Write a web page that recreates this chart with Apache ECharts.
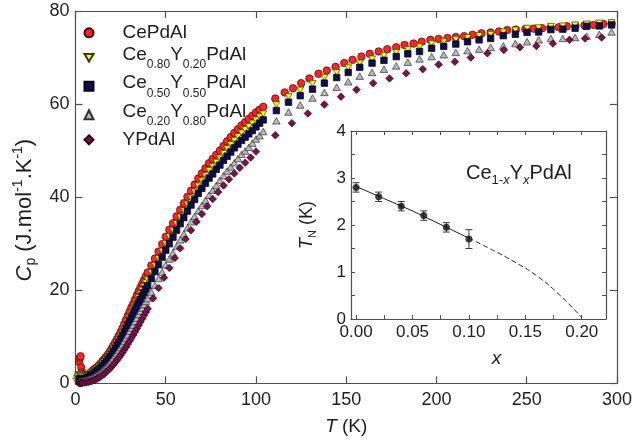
<!DOCTYPE html>
<html>
<head>
<meta charset="utf-8">
<script src="https://cdn.jsdelivr.net/npm/echarts@6/dist/echarts.min.js"></script>
<style>
  html, body { margin: 0; padding: 0; background: #ffffff; }
  #chart { width: 635px; height: 445px; }
</style>
</head>
<body>
<div id="chart"></div>
<script>
// ---- Specific heat C_p(T) of Ce(1-x)Y(x)PdAl ----

// dense low-temperature sweep (K), shared by the Ce-containing samples
const tLow = [2, 2.4, 2.8, 3.2, 3.6, 4, 5, 6, 7, 8, 9, 10, 11, 12, 13, 14, 15, 16, 17, 18, 19, 20,
  21, 22, 23, 24, 25, 26, 27, 28, 29, 30, 31, 32, 33, 34, 35, 36, 37, 38, 39, 40,
  42, 44, 46, 48, 50, 52, 54, 56, 58, 60, 62, 64, 66, 68, 70, 72, 74, 76, 78, 80,
  82, 84, 86, 88, 90, 92, 94, 96, 98, 100, 102, 104];

const cpCeLow = [4.6, 5.5, 5.8, 3.4, 2.3, 1.9, 1.6, 1.7, 1.9, 2.2, 2.5, 2.9, 3.2, 3.5, 3.9, 4.3, 4.8, 5.2, 5.7, 6.2, 6.8, 7.4,
  8.1, 8.8, 9.5, 10.2, 11.0, 11.8, 12.7, 13.6, 14.5, 15.4, 16.3, 17.1, 18.0, 18.9, 19.8, 20.6, 21.4, 22.2, 23.0, 23.8,
  25.3, 26.8, 28.3, 29.9, 31.5, 33.0, 34.4, 35.9, 37.3, 38.7, 40.1, 41.4, 42.7, 44.0, 45.1, 46.2, 47.3, 48.2, 49.1, 50.0,
  51.0, 52.0, 52.9, 53.8, 54.6, 55.4, 56.1, 56.8, 57.5, 58.2, 58.8, 59.4];

const cpY20Low = [1.9, 1.8, 1.7, 1.6, 1.5, 1.45, 1.4, 1.5, 1.7, 1.9, 2.2, 2.5, 2.8, 3.1, 3.5, 3.8, 4.3, 4.7, 5.1, 5.6, 6.2, 6.7,
  7.4, 8.0, 8.7, 9.4, 10.1, 10.9, 11.7, 12.5, 13.4, 14.2, 15.1, 15.9, 16.7, 17.6, 18.4, 19.2, 20.0, 20.8, 21.6, 22.3,
  23.8, 25.3, 26.8, 28.4, 30.0, 31.5, 32.9, 34.3, 35.7, 37.1, 38.5, 39.8, 41.1, 42.4, 43.5, 44.6, 45.7, 46.6, 47.5, 48.4,
  49.4, 50.4, 51.3, 52.2, 53.0, 53.8, 54.5, 55.2, 55.9, 56.6, 57.3, 57.9];

const cpY50Low = [0.9, 0.9, 0.85, 0.85, 0.85, 0.9, 1.0, 1.2, 1.3, 1.6, 1.8, 2.1, 2.4, 2.7, 3.0, 3.4, 3.8, 4.2, 4.6, 5.1, 5.6, 6.2,
  6.8, 7.4, 8.1, 8.7, 9.4, 10.1, 10.9, 11.7, 12.5, 13.3, 14.1, 14.9, 15.7, 16.5, 17.3, 18.0, 18.8, 19.5, 20.3, 21.0,
  22.5, 24.0, 25.5, 27.1, 28.6, 30.0, 31.4, 32.9, 34.3, 35.6, 37.0, 38.3, 39.5, 40.8, 41.9, 43.0, 44.1, 45.0, 46.0, 46.9,
  47.9, 48.8, 49.7, 50.6, 51.4, 52.2, 52.9, 53.6, 54.3, 55.1, 55.9, 56.6];

const cpY80Low = [0.4, 0.4, 0.4, 0.4, 0.45, 0.5, 0.6, 0.7, 0.8, 1.0, 1.1, 1.3, 1.6, 1.8, 2.1, 2.4, 2.8, 3.1, 3.5, 3.9, 4.4, 4.9,
  5.4, 6.0, 6.5, 7.1, 7.7, 8.3, 9.0, 9.7, 10.4, 11.2, 11.9, 12.5, 13.3, 14.0, 14.8, 15.5, 16.2, 16.9, 17.6, 18.2,
  19.6, 21.0, 22.5, 23.9, 25.4, 26.7, 28.0, 29.4, 30.8, 32.1, 33.4, 34.7, 35.9, 37.1, 38.2, 39.3, 40.4, 41.5, 42.5, 43.6,
  44.6, 45.6, 46.5, 47.4, 48.3, 49.2, 49.9, 50.7, 51.6, 52.5, 53.2, 54.1];

// Ce0.80Y0.20PdAl reaches lower temperatures
const tY20Lead = [0.4, 0.8, 1.2, 1.6];
const cpY20Lead = [0.5, 1.0, 1.4, 1.7];

// YPdAl sweep
const tYLow = [2, 2.4, 2.8, 3.2, 3.6, 4, 5, 6, 7, 8, 9, 10, 11, 12, 13, 14, 15, 16, 17, 18, 19, 20,
  21, 22, 23, 24, 25, 26, 27, 28, 29, 30, 31, 32, 33, 34, 35, 36, 37, 38, 39, 40,
  43, 46, 49, 52, 55, 58, 61, 64, 67, 70, 73, 76, 79, 82, 85, 88, 91, 94, 97, 100];
const cpYLow = [0.02, 0.03, 0.04, 0.06, 0.08, 0.1, 0.15, 0.2, 0.28, 0.37, 0.48, 0.62, 0.8, 1.0, 1.22, 1.45, 1.75, 2.05, 2.4, 2.75, 3.15, 3.55,
  4.0, 4.5, 5.0, 5.5, 6.05, 6.6, 7.2, 7.8, 8.45, 9.1, 9.75, 10.4, 11.1, 11.8, 12.5, 13.2, 13.9, 14.6, 15.3, 16.0,
  18.25, 20.5, 22.7, 24.8, 26.9, 29.0, 31.0, 32.9, 34.7, 36.4, 38.05, 39.6, 41.1, 42.5, 43.85, 45.1, 46.3, 47.4, 48.5, 49.8];

// high-temperature sweeps
const tCeHigh = [110.7, 115.9, 120.5, 125, 129.6, 134.6, 139.2, 144.1, 148.9, 153.5, 158.4, 163, 168, 172.7, 177.7,
  182.3, 187.3, 191.8, 196.6, 201.2, 206.1, 210.7, 215.3, 220, 224.9, 230, 234.6, 239.2, 244, 249.2, 253.9,
  258.5, 263.1, 267.7, 272.2, 277, 282, 286.9, 292.4, 297];
const cpCeHigh = [61.2, 62.5, 63.4, 64.5, 65.5, 66.5, 67.2, 68.0, 68.8, 69.5, 70.2, 70.8, 71.3, 71.8, 72.2,
  72.7, 73.0, 73.4, 73.8, 74.0, 74.2, 74.4, 74.6, 74.9, 75.2, 75.4, 75.6, 75.9, 76.0, 76.1, 76.2,
  76.3, 76.4, 76.5, 76.7, 76.8, 76.9, 77.0, 77.2, 77.3];

const tMixHigh = [111.3, 118, 124.5, 131.3, 137.9, 144.7, 151.1, 157.5, 164.3, 170.9, 177.7, 184.1, 190.6, 197.3, 204,
  210.7, 217.2, 223.6, 230, 237, 243.7, 250.2, 256.6, 263.4, 270, 276.8, 283.2, 290.2, 297];
const cpY20High = [59.9, 61.6, 63.0, 64.4, 65.7, 66.8, 67.8, 68.8, 69.7, 70.4, 71.1, 71.7, 72.3, 73.0, 73.4,
  73.9, 74.3, 74.7, 75.0, 75.5, 75.9, 76.3, 76.4, 76.7, 76.8, 77.0, 77.2, 77.4, 77.5];
const cpY50High = [58.6, 60.4, 61.8, 63.2, 64.5, 65.7, 66.8, 67.9, 68.8, 69.4, 70.2, 70.8, 71.3, 72.0, 72.4,
  72.9, 73.4, 73.8, 74.1, 74.7, 75.0, 75.4, 75.5, 76.0, 76.1, 76.3, 76.7, 76.8, 77.0];
const cpY80High = [56.4, 58.3, 59.8, 61.3, 62.5, 63.6, 64.8, 66.0, 66.8, 67.5, 68.2, 69.0, 69.7, 70.2, 70.6,
  71.1, 71.5, 71.8, 72.2, 72.5, 73.0, 73.4, 73.8, 74.1, 74.1, 74.3, 74.6, 75.0, 75.5];

const tYHigh = [110.7, 119.9, 128.7, 137.9, 147.1, 155.7, 164.9, 174, 183.2, 192.4, 201.2, 210.2, 219, 228.2,
  237.3, 246.2, 255.3, 264.5, 273.7, 282.3, 291.5];
const cpYHigh = [53.3, 55.9, 58.0, 59.9, 61.6, 63.1, 64.5, 65.5, 66.6, 67.5, 68.5, 69.1, 70.0, 70.9,
  71.6, 72.2, 72.5, 73.0, 73.8, 74.1, 74.3];

// ---- inset: Neel temperature versus Y content ----
const xConc = [0, 0.02, 0.04, 0.06, 0.08, 0.10];
const tNeel = [2.8, 2.6, 2.4, 2.2, 1.95, 1.7];
const tNeelErr = [0.1, 0.1, 0.1, 0.1, 0.1, 0.2];
const fitX = [0, 0.05, 0.10];
const fitY = [2.82, 2.30, 1.72];
const extX = [0.10, 0.12, 0.14, 0.16, 0.18, 0.20];
const extY = [1.72, 1.48, 1.22, 0.92, 0.52, 0.03];

// axis ticks
const mainXTicks = { min: 0, max: 300, step: 50 };
const mainYTicks = { min: 0, max: 80, step: 20 };
const insetXLabels = [0, 0.05, 0.10, 0.15, 0.20];
const insetXTicks = [0, 0.025, 0.05, 0.075, 0.10, 0.125, 0.15, 0.175, 0.20];
const insetYTicks = [0, 0.5, 1, 1.5, 2, 2.5, 3, 3.5, 4];

const sampleNames = ['CePdAl', 'Ce0.80Y0.20PdAl', 'Ce0.50Y0.50PdAl', 'Ce0.20Y0.80PdAl', 'YPdAl'];

// ---- build ----
const FONT = '"Liberation Sans", Arial, Helvetica, sans-serif';
const INK = '#1e1e1e';
const FRAME = '#505050';

function pairs(ts, vs) { return ts.map((t, i) => [t, vs[i]]); }

const seriesData = [
  pairs(tLow, cpCeLow).concat(pairs(tCeHigh, cpCeHigh)),
  pairs(tY20Lead, cpY20Lead).concat(pairs(tLow, cpY20Low), pairs(tMixHigh, cpY20High)),
  pairs(tLow, cpY50Low).concat(pairs(tMixHigh, cpY50High)),
  pairs(tLow, cpY80Low).concat(pairs(tMixHigh, cpY80High)),
  pairs(tYLow, cpYLow).concat(pairs(tYHigh, cpYHigh))
];

const markerStyles = [
  { symbol: 'circle', size: 7.5, color: '#ff2424', border: '#3a0a0a' },
  { symbol: 'path://M0,0L2,0L1,1.7Z', size: [7, 6], color: '#ffff00', border: '#3a3a10' },
  { symbol: 'rect', size: 6.5, color: '#0e0e4e', border: '#050510' },
  { symbol: 'triangle', size: [7.5, 6.5], color: '#b8b8b8', border: '#303030' },
  { symbol: 'diamond', size: 7.5, color: '#7d1248', border: '#2a0618' }
];

const legendRich = {
  c: { fontSize: 19, fontFamily: FONT, color: INK, lineHeight: 26 },
  m: { fontSize: 19, fontFamily: FONT, color: INK, lineHeight: 26, verticalAlign: 'top' },
  s: { fontSize: 12, fontFamily: FONT, color: INK, lineHeight: 26, verticalAlign: 'bottom' }
};
function legendLabel(name) {
  const m = name.match(/^Ce(\d\.\d+)Y(\d\.\d+)PdAl$/);
  if (m) return '{m|Ce}{s|' + m[1] + '}{m|Y}{s|' + m[2] + '}{m|PdAl}';
  return '{c|' + name + '}';
}

const mainSeries = sampleNames.map((name, i) => ({
  name: name,
  type: 'scatter',
  xAxisIndex: 0,
  yAxisIndex: 0,
  data: seriesData[i],
  symbol: markerStyles[i].symbol,
  symbolSize: markerStyles[i].size,
  itemStyle: { color: markerStyles[i].color, borderColor: markerStyles[i].border, borderWidth: 0.7, opacity: 1 },
  emphasis: { disabled: true },
  silent: true,
  z: 2 + i
}));

const insetSeries = [
  {
    type: 'line', xAxisIndex: 2, yAxisIndex: 2, data: pairs(fitX, fitY),
    showSymbol: false, smooth: false, silent: true,
    lineStyle: { color: '#222', width: 1 }, z: 10
  },
  {
    type: 'line', xAxisIndex: 2, yAxisIndex: 2, data: pairs(extX, extY),
    showSymbol: false, smooth: true, silent: true,
    lineStyle: { color: '#222', width: 1, type: [5, 3] }, z: 10
  },
  {
    type: 'custom', xAxisIndex: 2, yAxisIndex: 2, silent: true, z: 11,
    data: xConc.map((x, i) => [x, tNeel[i], tNeelErr[i]]),
    encode: { x: 0, y: 1 },
    renderItem: function (params, api) {
      const x = api.value(0), y = api.value(1), e = api.value(2);
      const top = api.coord([x, y + e]);
      const bot = api.coord([x, y - e]);
      const hw = 3.5;
      const st = { stroke: '#3a3a3a', lineWidth: 1 };
      return {
        type: 'group',
        children: [
          { type: 'line', shape: { x1: top[0], y1: top[1], x2: bot[0], y2: bot[1] }, style: st },
          { type: 'line', shape: { x1: top[0] - hw, y1: top[1], x2: top[0] + hw, y2: top[1] }, style: st },
          { type: 'line', shape: { x1: bot[0] - hw, y1: bot[1], x2: bot[0] + hw, y2: bot[1] }, style: st }
        ]
      };
    }
  },
  {
    type: 'scatter', xAxisIndex: 2, yAxisIndex: 2, data: pairs(xConc, tNeel),
    symbol: 'circle', symbolSize: 7, silent: true, z: 12,
    itemStyle: { color: '#111', borderColor: '#111', borderWidth: 0 }
  }
];

const tickLabel = { color: INK, fontFamily: FONT, fontSize: 18 };
const insetLabel = { color: INK, fontFamily: FONT, fontSize: 17 };

const option = {
  animation: false,
  backgroundColor: '#ffffff',
  textStyle: { fontFamily: FONT },
  grid: [
    { left: 75.5, top: 11, width: 544.5, height: 372.3, containLabel: false },
    { left: 351, top: 131, width: 255, height: 188, containLabel: false }
  ],
  legend: {
    orient: 'vertical',
    left: 83.5,
    top: 23.3,
    padding: 0,
    itemGap: 2.5,
    itemWidth: 9,
    itemHeight: 9,
    selectedMode: false,
    data: sampleNames,
    formatter: legendLabel,
    textStyle: { color: INK, fontFamily: FONT, fontSize: 19, padding: [0, 0, 0, 24], rich: legendRich }
  },
  xAxis: [
    {
      gridIndex: 0, type: 'value', position: 'bottom',
      min: mainXTicks.min, max: mainXTicks.max, interval: mainXTicks.step,
      axisLine: { show: true, onZero: false, lineStyle: { color: FRAME, width: 1.2 } },
      axisTick: { show: true, inside: true, length: 7, lineStyle: { color: FRAME, width: 1.2 } },
      axisLabel: Object.assign({ margin: 8 }, tickLabel),
      splitLine: { show: false },
      name: '{i|T}{n| (K)}',
      nameLocation: 'middle',
      nameGap: 34,
      nameTextStyle: {
        color: INK, fontFamily: FONT, fontSize: 19,
        rich: {
          i: { fontStyle: 'italic', fontSize: 19, fontFamily: FONT, color: INK },
          n: { fontSize: 19, fontFamily: FONT, color: INK }
        }
      }
    },
    {
      gridIndex: 0, type: 'value', position: 'top',
      min: mainXTicks.min, max: mainXTicks.max, interval: mainXTicks.step,
      axisLine: { show: true, onZero: false, lineStyle: { color: FRAME, width: 1.2 } },
      axisTick: { show: true, inside: true, length: 7, lineStyle: { color: FRAME, width: 1.2 } },
      axisLabel: { show: false }, splitLine: { show: false }
    },
    {
      gridIndex: 1, type: 'value', position: 'bottom',
      min: -0.0045, max: 0.2215,
      axisLine: { show: true, onZero: false, lineStyle: { color: FRAME, width: 1.2 } },
      axisTick: { show: true, inside: true, length: 4, customValues: insetXTicks, lineStyle: { color: FRAME, width: 1 } },
      axisLabel: Object.assign({ margin: 5, customValues: insetXLabels, formatter: v => v.toFixed(2) }, insetLabel),
      splitLine: { show: false },
      name: 'x',
      nameLocation: 'middle',
      nameGap: 30,
      nameTextStyle: { color: INK, fontFamily: FONT, fontSize: 19, fontStyle: 'italic', padding: [0, 0, 0, 36] }
    },
    {
      gridIndex: 1, type: 'value', position: 'top',
      min: -0.0045, max: 0.2215,
      axisLine: { show: true, onZero: false, lineStyle: { color: FRAME, width: 1.2 } },
      axisTick: { show: true, inside: true, length: 4, customValues: insetXTicks, lineStyle: { color: FRAME, width: 1 } },
      axisLabel: { show: false }, splitLine: { show: false }
    }
  ],
  yAxis: [
    {
      gridIndex: 0, type: 'value', position: 'left',
      min: mainYTicks.min, max: mainYTicks.max, interval: mainYTicks.step,
      axisLine: { show: true, onZero: false, lineStyle: { color: FRAME, width: 1.2 } },
      axisTick: { show: true, inside: true, length: 7, lineStyle: { color: FRAME, width: 1.2 } },
      axisLabel: Object.assign({ margin: 6 }, tickLabel),
      splitLine: { show: false },
      name: '{i|C}{sub|p}{n| (J.mol}{sup|-1}{n|.K}{sup|-1}{n|)}',
      nameLocation: 'middle',
      nameGap: 37,
      nameTextStyle: {
        color: INK, fontFamily: FONT, fontSize: 22,
        padding: [0, 26, 0, 0],
        rich: {
          i: { fontStyle: 'italic', fontSize: 22, fontFamily: FONT, color: INK, lineHeight: 27 },
          n: { fontSize: 22, fontFamily: FONT, color: INK, lineHeight: 27 },
          sub: { fontSize: 14, fontFamily: FONT, color: INK, lineHeight: 27, verticalAlign: 'bottom' },
          sup: { fontSize: 14, fontFamily: FONT, color: INK, lineHeight: 27, verticalAlign: 'top' }
        }
      }
    },
    {
      gridIndex: 0, type: 'value', position: 'right',
      min: mainYTicks.min, max: mainYTicks.max, interval: mainYTicks.step,
      axisLine: { show: true, onZero: false, lineStyle: { color: FRAME, width: 1.2 } },
      axisTick: { show: true, inside: true, length: 7, lineStyle: { color: FRAME, width: 1.2 } },
      axisLabel: { show: false }, splitLine: { show: false }
    },
    {
      gridIndex: 1, type: 'value', position: 'left',
      min: 0, max: 4, interval: 1,
      axisLine: { show: true, onZero: false, lineStyle: { color: FRAME, width: 1.2 } },
      axisTick: { show: true, inside: true, length: 4, customValues: insetYTicks, lineStyle: { color: FRAME, width: 1 } },
      axisLabel: Object.assign({ margin: 5 }, insetLabel),
      splitLine: { show: false },
      name: '{i|T}{sub|N}{n| (K)}',
      nameLocation: 'middle',
      nameGap: 33,
      nameTextStyle: {
        color: INK, fontFamily: FONT, fontSize: 18,
        rich: {
          i: { fontStyle: 'italic', fontSize: 18, fontFamily: FONT, color: INK, lineHeight: 22 },
          n: { fontSize: 18, fontFamily: FONT, color: INK, lineHeight: 22 },
          sub: { fontSize: 11, fontFamily: FONT, color: INK, lineHeight: 22, verticalAlign: 'bottom' }
        }
      }
    },
    {
      gridIndex: 1, type: 'value', position: 'right',
      min: 0, max: 4, interval: 1,
      axisLine: { show: true, onZero: false, lineStyle: { color: FRAME, width: 1.2 } },
      axisTick: { show: true, inside: true, length: 4, customValues: insetYTicks, lineStyle: { color: FRAME, width: 1 } },
      axisLabel: { show: false }, splitLine: { show: false }
    }
  ],
  graphic: [
    {
      type: 'text',
      left: 466,
      top: 163,
      silent: true,
      style: {
        text: '{m|Ce}{s|1-}{si|x}{m|Y}{si|x}{m|PdAl}',
        rich: {
          m: { fontSize: 20, fontFamily: FONT, fill: INK, color: INK, lineHeight: 24, verticalAlign: 'top' },
          s: { fontSize: 13, fontFamily: FONT, fill: INK, color: INK, lineHeight: 24, verticalAlign: 'bottom' },
          si: { fontSize: 13, fontFamily: FONT, fontStyle: 'italic', fill: INK, color: INK, lineHeight: 24, verticalAlign: 'bottom' }
        }
      }
    }
  ],
  series: mainSeries.concat(insetSeries)
};

const chart = echarts.init(document.getElementById('chart'), null, { renderer: 'canvas' });
chart.setOption(option);
</script>
</body>
</html>
